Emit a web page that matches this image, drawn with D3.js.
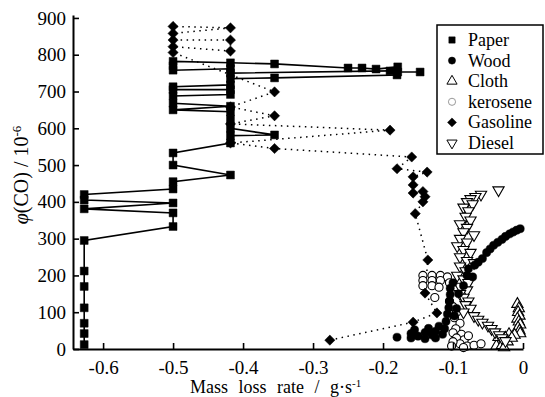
<!DOCTYPE html>
<meta charset="utf-8">
<title>CO vs mass loss rate</title>
<style>
body { margin: 0; background: #fff; }
svg { display: block; }
text { font-family: "Liberation Serif", "DejaVu Serif", serif; fill: #000; }
</style>
<body>
<script src="https://d3js.org/d3.v7.min.js"></script>
<script>

var width = 545, height = 397;

// tick values
var xTicks = [-0.6, -0.5, -0.4, -0.3, -0.2, -0.1, 0];
var yTicks = [0, 100, 200, 300, 400, 500, 600, 700, 800, 900];

// series, [mass loss rate, CO]
var paper = [
  [-0.627, 12], [-0.627, 42], [-0.627, 70], [-0.627, 112], [-0.627, 170], [-0.627, 212], [-0.627, 295],
  [-0.5, 333], [-0.5, 370], [-0.627, 381], [-0.5, 397], [-0.627, 405], [-0.627, 420], [-0.5, 435],
  [-0.5, 455], [-0.418, 473], [-0.5, 500], [-0.5, 533], [-0.418, 560], [-0.418, 580], [-0.355, 582],
  [-0.418, 600], [-0.418, 625], [-0.418, 645], [-0.5, 650], [-0.418, 660], [-0.5, 668], [-0.5, 688],
  [-0.418, 692], [-0.418, 705], [-0.5, 705], [-0.5, 713], [-0.418, 718], [-0.418, 735], [-0.355, 737],
  [-0.18, 745], [-0.19, 756], [-0.418, 750], [-0.418, 762], [-0.5, 758], [-0.5, 770], [-0.5, 782],
  [-0.418, 778], [-0.355, 775], [-0.25, 764], [-0.23, 764], [-0.21, 761], [-0.179, 767], [-0.179, 753],
  [-0.147, 753]
];

var wood = [
  [-0.18, 32], [-0.16, 30], [-0.16, 42], [-0.155, 52], [-0.15, 35], [-0.14, 28], [-0.14, 45],
  [-0.135, 56], [-0.13, 38], [-0.125, 30], [-0.125, 48], [-0.12, 62], [-0.115, 40], [-0.112, 55],
  [-0.11, 75], [-0.108, 95], [-0.106, 112], [-0.105, 130], [-0.104, 148], [-0.104, 165], [-0.1, 180],
  [-0.098, 90], [-0.095, 110], [-0.092, 150], [-0.085, 172], [-0.08, 200], [-0.078, 218], [-0.072, 196],
  [-0.069, 228], [-0.064, 236], [-0.058, 246], [-0.052, 262], [-0.047, 272], [-0.042, 282],
  [-0.036, 290], [-0.03, 298], [-0.025, 306], [-0.019, 313], [-0.014, 318], [-0.009, 323], [-0.004, 327]
];

var cloth = [
  [-0.008, 122], [-0.006, 110], [-0.007, 100], [-0.005, 90], [-0.008, 82], [-0.006, 74], [-0.004, 66],
  [-0.007, 58], [-0.005, 50], [-0.004, 42], [-0.012, 38], [-0.02, 40], [-0.025, 30], [-0.03, 24],
  [-0.035, 16], [-0.038, 8], [-0.03, 10], [-0.022, 20], [-0.016, 30], [-0.035, 32], [-0.027, 4]
];

var kerosene = [
  [-0.143, 200], [-0.13, 200], [-0.118, 200], [-0.108, 196], [-0.143, 186], [-0.13, 186], [-0.118, 186],
  [-0.105, 180], [-0.143, 172], [-0.13, 172], [-0.12, 168], [-0.126, 140], [-0.105, 130], [-0.1, 115],
  [-0.095, 100], [-0.098, 85], [-0.09, 70], [-0.096, 55], [-0.1, 44], [-0.088, 40], [-0.095, 30],
  [-0.084, 25], [-0.078, 36], [-0.09, 14], [-0.08, 8], [-0.07, 10], [-0.06, 14], [-0.1, 20],
  [-0.085, 4], [-0.102, 8]
];

var gasoline = [
  [-0.276, 24], [-0.157, 73], [-0.123, 98], [-0.14, 152], [-0.136, 242], [-0.154, 368], [-0.143, 400],
  [-0.14, 414], [-0.143, 428], [-0.157, 424], [-0.157, 446], [-0.157, 468], [-0.137, 481], [-0.18, 490],
  [-0.159, 522], [-0.355, 545], [-0.418, 560], [-0.19, 595], [-0.418, 612], [-0.355, 634],
  [-0.418, 658], [-0.355, 699], [-0.5, 806], [-0.5, 822], [-0.418, 810], [-0.418, 840], [-0.5, 840],
  [-0.5, 858], [-0.418, 873], [-0.5, 877]
];

var diesel = [
  [-0.035, 432], [-0.06, 420], [-0.068, 414], [-0.075, 408], [-0.08, 400], [-0.072, 394], [-0.085, 385],
  [-0.078, 375], [-0.082, 360], [-0.075, 350], [-0.09, 340], [-0.08, 330], [-0.085, 318], [-0.07, 310],
  [-0.09, 300], [-0.08, 290], [-0.094, 280], [-0.085, 270], [-0.075, 262], [-0.09, 250], [-0.08, 240],
  [-0.07, 234], [-0.09, 225], [-0.082, 212], [-0.094, 200], [-0.085, 190], [-0.078, 180], [-0.09, 170],
  [-0.08, 160], [-0.09, 150], [-0.085, 140], [-0.078, 130], [-0.082, 120], [-0.075, 110], [-0.085, 100],
  [-0.07, 90], [-0.064, 80], [-0.058, 72], [-0.05, 64], [-0.045, 55], [-0.04, 46], [-0.034, 38],
  [-0.03, 30], [-0.025, 22]
];

var legendNames = ["Paper", "Wood", "Cloth", "kerosene", "Gasoline", "Diesel"];

var svg = d3.select("body").append("svg")
    .attr("width", width)
    .attr("height", height);

var x = d3.scaleLinear().domain([-0.643, 0]).range([73, 523]);
var y = d3.scaleLinear().domain([0, 908]).range([349, 15]);

// marker shapes
var sq = d3.symbol().type(d3.symbolSquare).size(62)(),
    circ = d3.symbol().type(d3.symbolCircle).size(52)(),
    tri = d3.symbol().type(d3.symbolTriangle).size(55)(),
    dia = d3.symbol().type(d3.symbolSquare).size(52)();

var styles = {
  Paper:    {d: sq,   rot: 0,   fill: "#000", stroke: "#000"},
  Wood:     {d: circ, rot: 0,   fill: "#000", stroke: "#000"},
  Cloth:    {d: tri,  rot: 0,   fill: "#fff", stroke: "#000"},
  kerosene: {d: circ, rot: 0,   fill: "#fff", stroke: "#000"},
  Gasoline: {d: dia,  rot: 45,  fill: "#000", stroke: "#000"},
  Diesel:   {d: tri,  rot: 180, fill: "#fff", stroke: "#000"}
};

var line = d3.line().x(function(d) { return x(d[0]); }).y(function(d) { return y(d[1]); });

// connecting lines
svg.append("path").datum(paper)
    .attr("d", line)
    .attr("fill", "none")
    .attr("stroke", "#000")
    .attr("stroke-width", 1.6);

svg.append("path").datum(gasoline)
    .attr("d", line)
    .attr("fill", "none")
    .attr("stroke", "#000")
    .attr("stroke-width", 1.5)
    .attr("stroke-dasharray", "1.5,4.5");

function drawPoints(data, name) {
  var s = styles[name];
  svg.append("g").selectAll("path")
      .data(data)
    .enter().append("path")
      .attr("d", s.d)
      .attr("transform", function(d) {
        return "translate(" + x(d[0]) + "," + y(d[1]) + ") rotate(" + s.rot + ")";
      })
      .attr("fill", s.fill)
      .attr("stroke", s.stroke)
      .attr("stroke-width", s.fill === "#fff" ? 1.1 : 0.5);
}

drawPoints(kerosene, "kerosene");
drawPoints(cloth, "Cloth");
drawPoints(diesel, "Diesel");
drawPoints(wood, "Wood");
drawPoints(gasoline, "Gasoline");
drawPoints(paper, "Paper");

// axes
svg.append("g")
    .attr("transform", "translate(0," + y(0) + ")")
    .call(d3.axisBottom(x)
      .tickValues(xTicks)
      .tickSizeInner(-6)
      .tickSizeOuter(0)
      .tickPadding(12)
      .tickFormat(function(d) { return d === 0 ? "0" : d.toFixed(1); }));

svg.append("g")
    .attr("transform", "translate(" + x(-0.643) + ",0)")
    .call(d3.axisLeft(y)
      .tickValues(yTicks)
      .tickSizeInner(-6)
      .tickSizeOuter(0)
      .tickPadding(7));

svg.selectAll(".domain").attr("stroke", "#000").attr("stroke-width", 2);
svg.selectAll(".tick line").attr("stroke", "#000").attr("stroke-width", 1.6);
svg.selectAll(".tick text")
    .style("font-family", "'Liberation Serif', serif")
    .style("font-size", "19px")
    .attr("fill", "#000");

// axis titles
var xt = svg.append("text")
    .attr("x", 190)
    .attr("y", 393)
    .style("font-size", "18px")
    .style("word-spacing", "6px");
xt.append("tspan").text("Mass loss rate / g\u00b7s");
xt.append("tspan").attr("dy", -6).style("font-size", "11px").text("-1");

var yt = svg.append("text")
    .attr("transform", "translate(28,175) rotate(-90)")
    .attr("text-anchor", "middle")
    .style("font-size", "20px");
yt.append("tspan").style("font-style", "italic").text("\u03c6");
yt.append("tspan").text("(CO) / 10");
yt.append("tspan").attr("dy", -7).style("font-size", "13px").text("-6");

// legend
var lg = svg.append("g");
lg.append("rect")
    .attr("x", 437).attr("y", 25)
    .attr("width", 106).attr("height", 129)
    .attr("fill", "#fff")
    .attr("stroke", "#000")
    .attr("stroke-width", 1.5);

var lsym = {
  Paper: d3.symbol().type(d3.symbolSquare).size(40)(),
  Wood: d3.symbol().type(d3.symbolCircle).size(40)(),
  Cloth: d3.symbol().type(d3.symbolTriangle).size(45)(),
  kerosene: d3.symbol().type(d3.symbolCircle).size(40)(),
  Gasoline: d3.symbol().type(d3.symbolSquare).size(40)(),
  Diesel: d3.symbol().type(d3.symbolTriangle).size(45)()
};

legendNames.forEach(function(name, i) {
  var cy = 40 + i * 20.6, s = styles[name];
  lg.append("path")
      .attr("d", lsym[name])
      .attr("transform", "translate(452," + cy + ") rotate(" + s.rot + ")")
      .attr("fill", s.fill)
      .attr("stroke", name === "kerosene" ? "#999" : "#000")
      .attr("stroke-width", s.fill === "#fff" ? 1 : 0.5);
  lg.append("text")
      .attr("x", 468)
      .attr("y", cy + 6)
      .style("font-size", "18px")
      .text(name);
});

</script>
</body>
